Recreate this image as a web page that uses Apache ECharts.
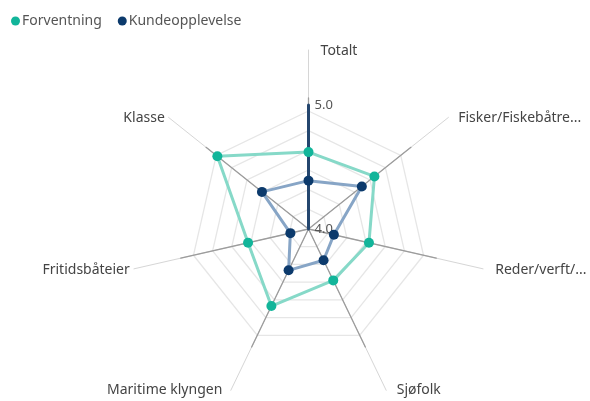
<!DOCTYPE html>
<html>
<head>
<meta charset="utf-8">
<script src="https://cdn.jsdelivr.net/npm/echarts@6/dist/echarts.min.js"></script>
<style>html,body{margin:0;padding:0;background:#fff}#c{width:590px;height:401px}</style>
</head>
<body>
<div id="c"></div>
<script>
// Categories in clockwise order starting at the top
const categories = ['Totalt', 'Fisker/Fiskebåtre...', 'Reder/verft/...', 'Sjøfolk', 'Maritime klyngen', 'Fritidsbåteier', 'Klasse'];
const forventning = [4.62, 4.68, 4.50, 4.46, 4.69, 4.50, 4.94];
const kundeopplevelse = [4.39, 4.55, 4.21, 4.28, 4.37, 4.15, 4.48];
const seriesNames = ['Forventning', 'Kundeopplevelse'];
const axisMin = 4.0;
const axisMax = 5.0;

// ECharts radar runs counter-clockwise: keep first, reverse the rest
const ccw = arr => [arr[0]].concat(arr.slice(1).reverse());
const cats = ccw(categories);
const keys = {'Totalt':'t','Fisker/Fiskebåtre...':'f','Reder/verft/...':'r','Sjøfolk':'s','Maritime klyngen':'m','Fritidsbåteier':'b','Klasse':'k'};

const font = "'Segoe UI','Noto Sans',sans-serif";
const center = [308.5, 229];
const nameStyle = {fontSize: 14, color: '#444', fontFamily: font};
const rich = {
  t: Object.assign({padding: [0, 0, 0, 61]}, nameStyle),
  f: Object.assign({padding: [0, 0, 9, 16]}, nameStyle),
  r: Object.assign({padding: [6, 0, 0, 20]}, nameStyle),
  s: Object.assign({padding: [14, 0, 0, 14]}, nameStyle),
  m: Object.assign({padding: [14, 12, 0, 0]}, nameStyle),
  b: Object.assign({padding: [6, 12, 0, 0]}, nameStyle),
  k: Object.assign({padding: [0, 10, 9, 0]}, nameStyle)
};

const indicator = cats.map(n => ({name: n, min: axisMin, max: axisMax}));

const chart = echarts.init(document.getElementById('c'), null, {renderer: 'canvas'});
chart.setOption({
  backgroundColor: '#fff',
  animation: false,
  legend: {
    left: 6, top: 9,
    icon: 'circle', itemWidth: 9, itemHeight: 9, itemGap: 16,
    textStyle: {fontSize: 14, color: '#555', fontFamily: font, padding: [0, 0, 0, -3]},
    data: seriesNames
  },
  radar: [
    { // leader lines + names
      center: center, radius: 179, startAngle: 90, indicator: indicator,
      splitNumber: 1,
      axisLine: {lineStyle: {color: '#d6d6d6', width: 1}},
      splitLine: {show: false}, splitArea: {show: false},
      nameGap: -8,
      axisName: {formatter: n => '{' + keys[n] + '|' + n + '}', rich: rich, color: '#444'}
    },
    { // axis lines
      center: center, radius: 131, startAngle: 90, indicator: indicator,
      splitNumber: 1,
      axisLine: {lineStyle: {color: '#9c9c9c', width: 1.3}},
      splitLine: {show: false}, splitArea: {show: false},
      axisName: {show: false}
    },
    { // grid rings
      center: center, radius: 118, startAngle: 90, indicator: indicator,
      splitNumber: 6,
      axisLine: {show: false},
      splitLine: {lineStyle: {color: '#e6e6e6', width: 1.3}},
      splitArea: {show: false},
      axisName: {show: false}
    },
    { // data scale
      center: center, radius: 124, startAngle: 90, indicator: indicator,
      splitNumber: 1,
      axisLine: {show: false}, splitLine: {show: false}, splitArea: {show: false},
      axisName: {show: false}
    }
  ],
  polar: {center: center, radius: 124},
  angleAxis: {show: false, startAngle: 90, type: 'value', min: 0, max: 360},
  radiusAxis: {
    min: axisMin, max: axisMax, interval: 1, z: 1,
    axisLine: {lineStyle: {color: '#24466e', width: 3}},
    axisTick: {show: false},
    splitLine: {show: false},
    axisLabel: {formatter: v => v.toFixed(1), fontSize: 13, color: '#555', fontFamily: font, margin: -6, align: 'left', verticalAlign: 'middle'}
  },
  series: [
    {
      name: seriesNames[0], type: 'radar', radarIndex: 3, z: 3,
      symbol: 'circle', symbolSize: 10,
      itemStyle: {color: '#12b59a'},
      lineStyle: {color: '#86d9c8', width: 3},
      data: [{value: ccw(forventning), name: seriesNames[0]}]
    },
    {
      name: seriesNames[1], type: 'radar', radarIndex: 3, z: 4,
      symbol: 'circle', symbolSize: 10,
      itemStyle: {color: '#0c3a6c'},
      lineStyle: {color: '#87a5c6', width: 3},
      data: [{value: ccw(kundeopplevelse), name: seriesNames[1]}]
    }
  ]
});
</script>
</body>
</html>
